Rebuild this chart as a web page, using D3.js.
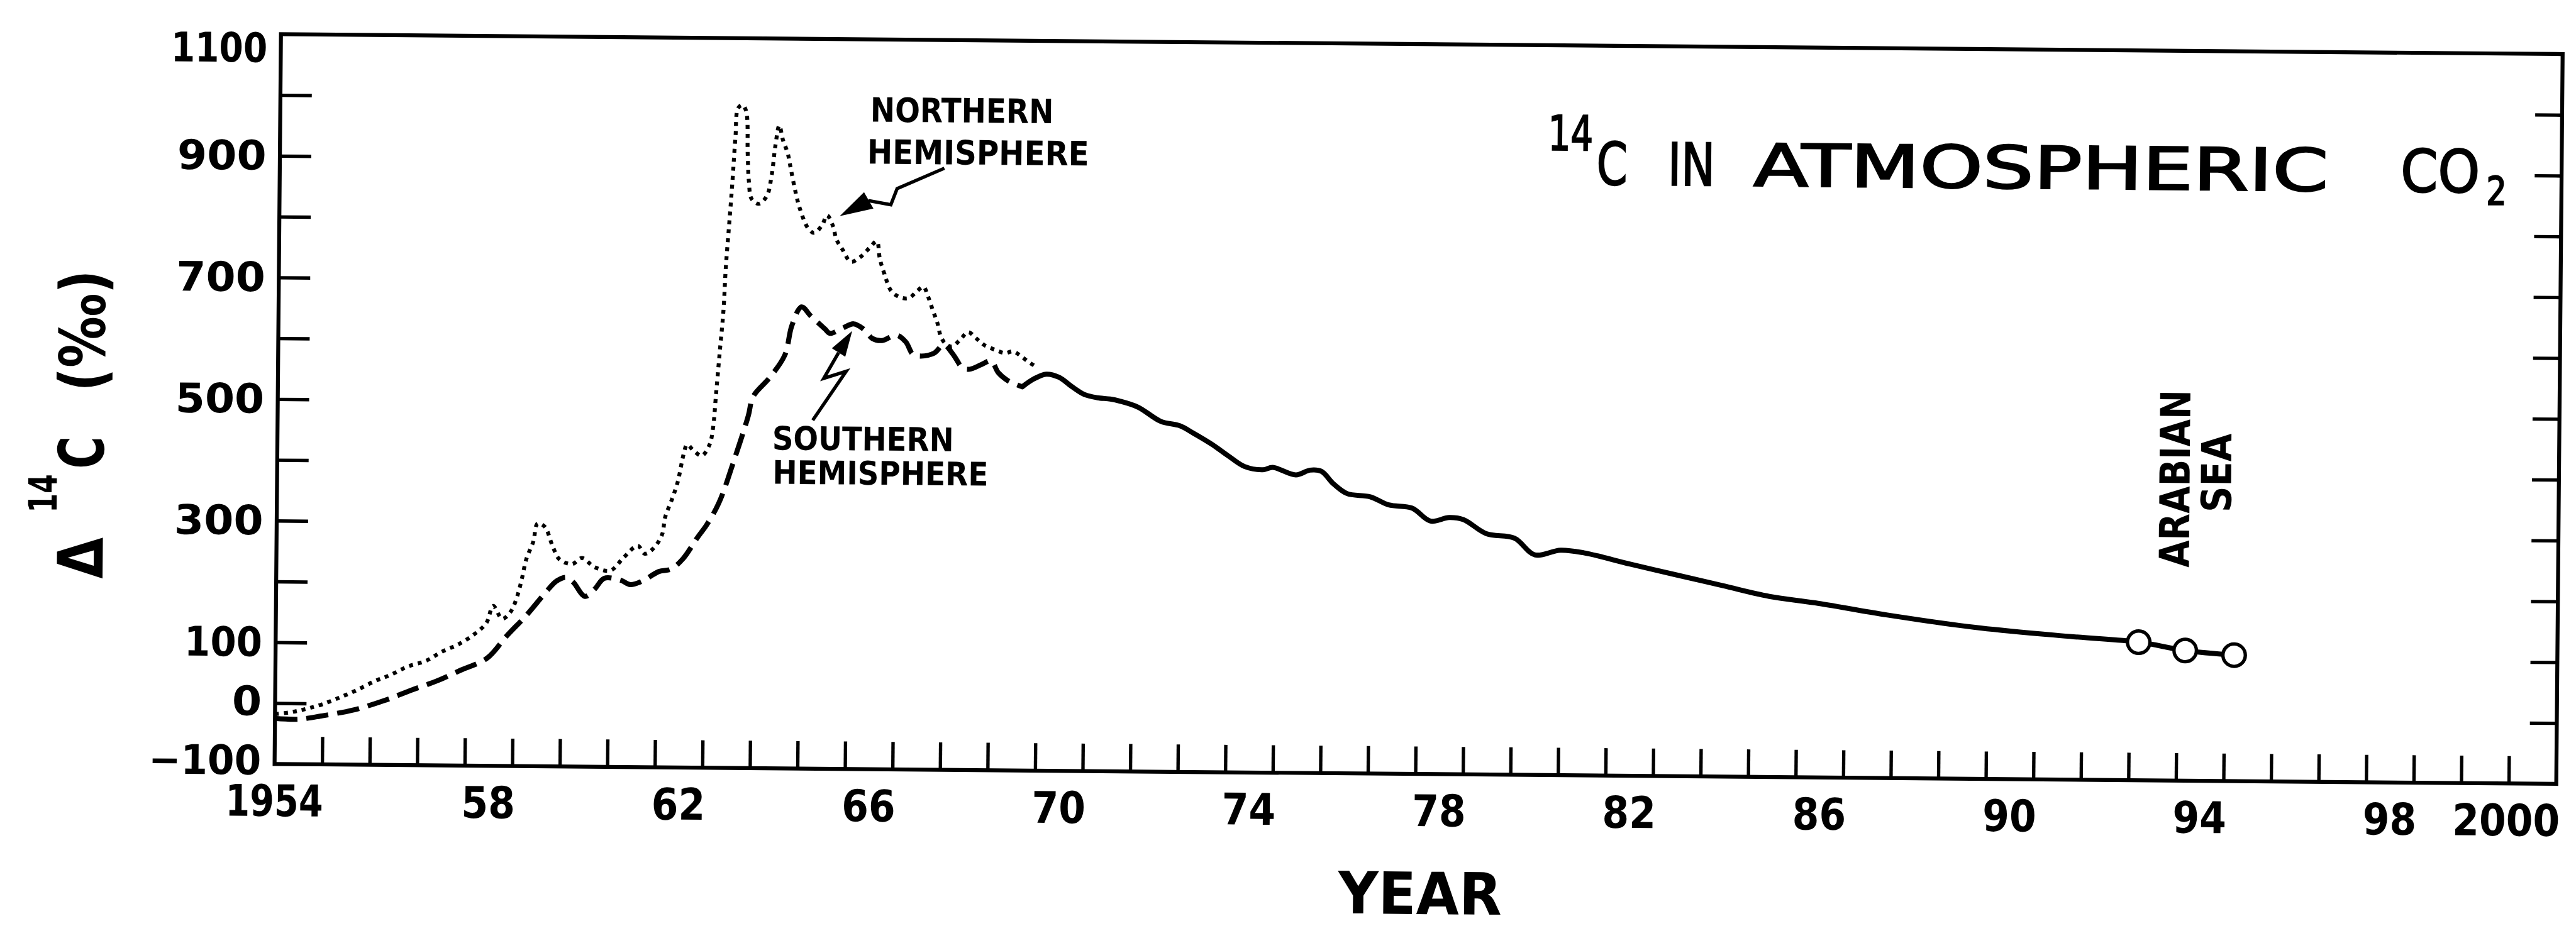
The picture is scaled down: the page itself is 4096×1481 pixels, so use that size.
<!DOCTYPE html>
<html><head><meta charset="utf-8">
<script src="https://cdn.jsdelivr.net/npm/d3@7"></script>
<style>html,body{margin:0;padding:0;background:#fff;overflow:hidden}</style>
</head><body>
<svg id="chart" width="4096" height="1481"></svg>
<script>
// ---------- DATA ----------
const northYears = [1954.0,1954.3,1954.55,1954.75,1955.0,1955.35,1955.7,1956.1,1956.42,1956.78,1957.17,1957.5,1957.86,1958.19,1958.43,1958.57,1958.76,1958.94,1959.08,1959.17,1959.26,1959.4,1959.49,1959.64,1959.8,1959.95,1960.22,1960.43,1960.7,1961.03,1961.3,1961.6,1961.75,1961.93,1962.11,1962.17,1962.32,1962.43,1962.55,1962.62,1962.76,1962.93,1963.09,1963.16,1963.22,1963.29,1963.36,1963.4,1963.46,1963.52,1963.58,1963.63,1963.72,1963.8,1963.84,1963.87,1963.93,1964.08,1964.25,1964.35,1964.42,1964.5,1964.58,1964.68,1964.75,1964.85,1964.95,1965.12,1965.25,1965.42,1965.52,1965.65,1965.72,1965.86,1966.03,1966.23,1966.43,1966.57,1966.64,1966.74,1966.88,1967.05,1967.25,1967.42,1967.56,1967.66,1967.76,1967.86,1967.93,1968.03,1968.17,1968.34,1968.51,1968.68,1968.85,1969.09,1969.29,1969.46,1969.63,1969.8,1969.93];
const northValues = [-18,-15,-11,-7,-1,10,22,38,48,62,72,87,100,117,135,163,142,154,181,209,241,269,299,294,264,241,233,243,228,223,244,264,251,260,283,311,343,370,416,431,421,413,431,458,516,585,653,722,790,859,938,985,990,980,910,865,836,828,841,876,923,957,933,912,886,849,820,789,781,794,810,792,771,753,734,742,758,768,739,714,687,677,675,686,694,678,656,635,614,601,596,607,620,610,599,591,586,589,581,571,565];

const southYears = [1954.0,1954.5,1955.0,1955.65,1956.3,1956.85,1957.4,1957.9,1958.45,1958.86,1959.28,1959.66,1959.9,1960.1,1960.25,1960.5,1960.7,1960.9,1961.25,1961.45,1961.7,1962.05,1962.3,1962.55,1962.85,1963.05,1963.3,1963.63,1963.9,1964.0,1964.35,1964.66,1964.8,1965.0,1965.2,1965.5,1965.6,1965.85,1966.1,1966.3,1966.5,1966.7,1967.0,1967.2,1967.35,1967.5,1967.8,1968.0,1968.2,1968.4,1968.55,1968.8,1969.0,1969.15,1969.35,1969.55,1969.66];
const southValues = [-25,-26,-20,-10,6,23,39,57,77,114,149,185,205,211,203,180,192,210,207,200,206,222,226,243,278,300,336,411,479,511,543,580,628,659,644,623,616,624,632,624,608,605,614,603,583,580,585,599,583,561,559,567,573,554,541,534,531];

const combinedYears = [1969.66,1969.9,1970.16,1970.43,1970.7,1970.97,1971.24,1971.51,1971.7,1972.1,1972.58,1972.98,1973.27,1973.66,1974.01,1974.35,1974.74,1974.94,1975.43,1975.73,1975.97,1976.22,1976.51,1977.0,1977.39,1977.88,1978.27,1978.66,1978.96,1979.45,1980.04,1980.47,1981.01,1981.5,1982.48,1983.45,1984.43,1985.41,1986.38,1987.9,1989.86,1991.82,1993.19,1994.17,1995.2];
const combinedValues = [531,544,552,547,532,519,514,512,509,499,476,469,457,439,420,403,398,402,390,398,396,376,360,355,342,337,316,322,319,296,289,262,270,266,248,231,214,197,187,168,148,135,127,114,107];

const arabianYears = [1993.19,1994.17,1995.2];
const arabianValues = [127,114,107];

const yTickValues = [1100,900,700,500,300,100,0,-100];
const yTickLabels = ["1100","900","700","500","300","100","0","\u2212100"];
const xTickLabelYears = [1954,1958,1962,1966,1970,1974,1978,1982,1986,1990,1994,1998,2000];
const xTickLabels = ["1954","58","62","66","70","74","78","82","86","90","94","98","2000"];

// ---------- SETUP ----------
const S = 0.891;
const svg = d3.select("#chart");
svg.append("rect").attr("width",4096).attr("height",1481).attr("fill","#fff");
const root = svg.append("g").attr("transform", `scale(${S}) rotate(0.5 490 1366)`);

const x = d3.scaleLinear().domain([1954, 2002]).range([490, 4562]);
const y = d3.scaleLinear().domain([-100, 1100]).range([1364, 61]);

const NUMFONT = "'DejaVu Sans', 'Liberation Sans', sans-serif";
const NARROW = "'Liberation Sans Narrow', 'DejaVu Sans Condensed', 'Liberation Sans', sans-serif";

function txt(g, px, py, s, o) {
  const t = g.append("text").attr("x", px).attr("y", py).text(s)
    .attr("font-family", o.font || NUMFONT)
    .attr("font-size", o.size)
    .attr("font-weight", o.weight || "bold")
    .attr("fill", "#000")
    .attr("text-anchor", o.anchor || "start");
  if (o.len) t.attr("textLength", o.len).attr("lengthAdjust", "spacingAndGlyphs");
  if (o.stroke) t.attr("stroke", "#000").attr("stroke-width", o.stroke);
  return t;
}

// ---------- AXES / FRAME ----------
const xAxis = d3.axisBottom(x).tickValues(d3.range(1955, 2002)).tickSize(-49).tickFormat("");
const gx = root.append("g").attr("transform", `translate(0,${y(-100)})`).call(xAxis);
const yAxisL = d3.axisLeft(y).tickValues(d3.range(0, 1001, 100)).tickSize(-56).tickFormat("");
const gyl = root.append("g").attr("transform", `translate(${x(1954)},0)`).call(yAxisL);
const yAxisR = d3.axisRight(y).tickValues(d3.range(0, 1001, 100)).tickSize(-48).tickFormat("");
const gyr = root.append("g").attr("transform", `translate(${x(2002)},0)`).call(yAxisR);
[gx, gyl, gyr].forEach(g => {
  g.select(".domain").remove();
  g.selectAll(".tick line").attr("stroke", "#000").attr("stroke-width", 6);
});
root.append("rect")
  .attr("x", x(1954)).attr("y", y(1100))
  .attr("width", x(2002) - x(1954)).attr("height", y(-100) - y(1100))
  .attr("fill", "none").attr("stroke", "#000").attr("stroke-width", 7);

// y tick labels
function labelWidth(s, wDigit, wOne, wMinus) {
  let w = 0;
  for (const c of s) w += (c === "1") ? wOne : (c === "\u2212" ? wMinus : wDigit);
  return w;
}
yTickValues.forEach((v, i) => {
  const s = yTickLabels[i];
  const w = labelWidth(s, 53, 33, 62);
  const dy = v === 1100 ? 50 : (v === -100 ? 19 : (v === 0 ? 22 : 25));
  txt(root, 466 - w, y(v) + dy, s, {size: 73, len: w});
});

// x tick labels
xTickLabelYears.forEach((yr, i) => {
  const s = xTickLabels[i];
  const w = labelWidth(s, 48, 30, 48);
  const off = i === 0 ? 0 : (i === xTickLabelYears.length - 1 ? 0.95 : 0.5);
  txt(root, x(yr + off) - w / 2, 1457, s, {size: 78, len: w});
});

// axis titles
txt(root, 2536, 1614, "YEAR", {size: 104, anchor: "middle", len: 292});
const yt = root.append("g").attr("transform", "translate(180,1036) rotate(-90)");
txt(yt, 0, 0, "\u0394", {size: 112, len: 74});
txt(yt, 117, -83, "14", {size: 70, len: 69});
txt(yt, 196, 0, "C", {size: 112, len: 58});
txt(yt, 334, 0, "(\u2030)", {size: 112, len: 217});

// ---------- SERIES ----------
const line = d3.line().x(d => x(d[0])).y(d => y(d[1])).curve(d3.curveCatmullRom.alpha(0.5));

root.append("path").datum(d3.zip(northYears, northValues))
  .attr("d", line).attr("fill", "none").attr("stroke", "#000")
  .attr("stroke-width", 7).attr("stroke-dasharray", "7 9");

root.append("path").datum(d3.zip(southYears, southValues))
  .attr("d", line).attr("fill", "none").attr("stroke", "#000")
  .attr("stroke-width", 9).attr("stroke-dasharray", "40 16");

root.append("path").datum(d3.zip(combinedYears, combinedValues))
  .attr("d", line).attr("fill", "none").attr("stroke", "#000")
  .attr("stroke-width", 9).attr("stroke-linejoin", "round").attr("stroke-linecap", "round");

root.selectAll("circle.arabian").data(d3.zip(arabianYears, arabianValues)).enter()
  .append("circle").attr("class", "arabian")
  .attr("cx", d => x(d[0])).attr("cy", d => y(d[1])).attr("r", 20)
  .attr("fill", "#fff").attr("stroke", "#000").attr("stroke-width", 6);

// ---------- ANNOTATIONS ----------
// title
const TW = {font: NARROW, weight: "normal", stroke: 2.5};
txt(root, 2753, 248, "14", Object.assign({size: 86, len: 80}, TW));
txt(root, 2840, 309, "C", Object.assign({size: 105, len: 55}, TW));
txt(root, 2967, 309, "IN", Object.assign({size: 105, len: 84}, TW));
txt(root, 3120, 309, "ATMOSPHERIC", Object.assign({size: 105, len: 1026}, TW));
txt(root, 4275, 309, "CO", Object.assign({size: 105, len: 141}, TW));
txt(root, 4428, 331, "2", Object.assign({size: 70, len: 36}, TW));

// hemisphere labels
txt(root, 1543, 208, "NORTHERN", {font: NARROW, size: 60, len: 327});
txt(root, 1538, 283, "HEMISPHERE", {font: NARROW, size: 60, len: 396});
txt(root, 1373, 795, "SOUTHERN", {font: NARROW, size: 58, len: 324});
txt(root, 1374, 856, "HEMISPHERE", {font: NARROW, size: 58, len: 385});

// lightning arrows
function bolt(pts, head) {
  root.append("path").attr("d", d3.line()(pts)).attr("fill", "none")
    .attr("stroke", "#000").attr("stroke-width", 6).attr("stroke-linejoin", "miter");
  root.append("path").attr("d", d3.line()(head) + "Z").attr("fill", "#000");
}
bolt([[1676,290],[1592,327],[1581,356],[1541,349]], [[1490,377],[1533,334],[1550,363]]);
bolt([[1445,742],[1504,654],[1464,667],[1490,621]], [[1514,582],[1478,613],[1502,628]]);

// Arabian Sea label
const as1 = root.append("g").attr("transform", "translate(3903,825) rotate(-90)");
txt(as1, 0, 0, "ARABIAN", {size: 74, anchor: "middle", len: 317});
const as2 = root.append("g").attr("transform", "translate(3977,814) rotate(-90)");
txt(as2, 0, 0, "SEA", {size: 74, anchor: "middle", len: 141});
</script>
</body></html>
